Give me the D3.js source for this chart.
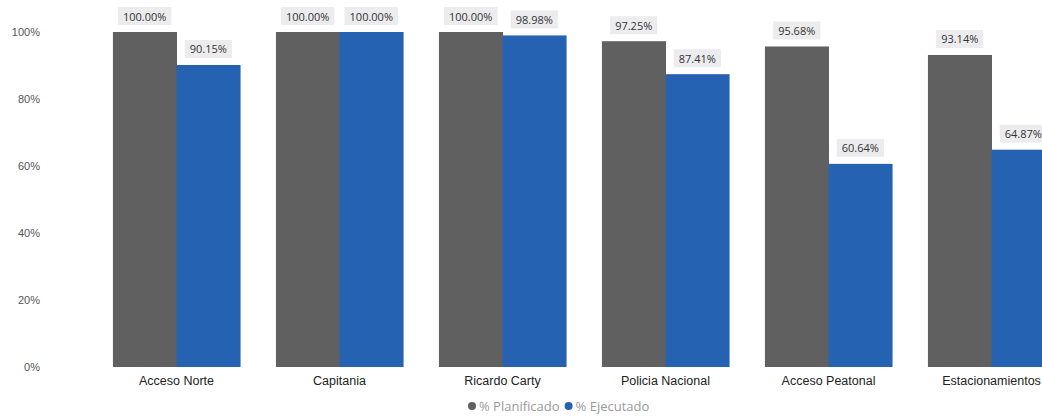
<!DOCTYPE html>
<html>
<head>
<meta charset="utf-8">
<script src="https://cdn.jsdelivr.net/npm/d3@7"></script>
<style>
  body { margin: 0; background: #fff; }
  svg { display: block; font-family: "Segoe UI", "Open Sans", sans-serif; }
</style>
</head>
<body>
<script>
// chart data
var categories = ["Acceso Norte", "Capitania", "Ricardo Carty", "Policia Nacional", "Acceso Peatonal", "Estacionamientos"];
var planificado = [1.0, 1.0, 1.0, 0.9725, 0.9568, 0.9314];
var ejecutado = [0.9015, 1.0, 0.9898, 0.8741, 0.6064, 0.6487];
var series = ["% Planificado", "% Ejecutado"];
var yTicks = [0, 0.2, 0.4, 0.6, 0.8, 1.0];

var width = 1042, height = 416;
var colors = ["#606060", "#2662b2"];

var svg = d3.select("body").append("svg")
    .attr("width", width)
    .attr("height", height);

var x = d3.scaleBand().domain(categories).range([95, 1073])
    .paddingInner(0.22).paddingOuter(0.11);
var xs = d3.scaleBand().domain(series).range([0, x.bandwidth()]);
var y = d3.scaleLinear().domain([0, 1]).range([367, 32]);

// y axis labels only
svg.append("g")
   .attr("transform", "translate(40,0)")
   .call(d3.axisLeft(y).tickValues(yTicks).tickFormat(d3.format(".0%")).tickSize(0).tickPadding(0))
   .call(function (g) { g.select(".domain").remove(); })
   .selectAll("text")
   .attr("fill", "#555")
   .style("font-size", "11px");

// x axis labels
svg.append("g")
   .attr("transform", "translate(0,370)")
   .call(d3.axisBottom(x).tickSize(0).tickPadding(6))
   .call(function (g) { g.select(".domain").remove(); })
   .selectAll("text")
   .attr("fill", "#222")
   .style("font-size", "12.5px");

var rows = categories.map(function (c, i) {
    return { cat: c, vals: [planificado[i], ejecutado[i]] };
});

var groups = svg.selectAll(".grp").data(rows).enter().append("g")
    .attr("class", "grp")
    .attr("transform", function (d) { return "translate(" + x(d.cat) + ",0)"; });

var cells = groups.selectAll(".cell")
    .data(function (d) { return d.vals.map(function (v, j) { return { s: series[j], v: v, j: j }; }); })
    .enter().append("g").attr("class", "cell");

cells.append("rect")
    .attr("x", function (d) { return xs(d.s); })
    .attr("width", xs.bandwidth() + 0.5)
    .attr("y", function (d) { return y(d.v); })
    .attr("height", function (d) { return y(0) - y(d.v); })
    .attr("fill", function (d) { return colors[d.j]; });

var fmt = d3.format(".2%");
cells.each(function (d) {
    var g = d3.select(this);
    var cx = xs(d.s) + xs.bandwidth() / 2;
    var cy = y(d.v) - 16;
    var t = g.append("text")
        .attr("x", cx).attr("y", cy)
        .attr("text-anchor", "middle")
        .attr("dominant-baseline", "central")
        .attr("fill", "#333")
        .style("font-size", "11px")
        .text(fmt(d.v));
    var bb = t.node().getBBox();
    g.insert("rect", "text")
        .attr("x", bb.x - 5).attr("y", cy - 9)
        .attr("width", bb.width + 10).attr("height", 18)
        .attr("fill", "#ececee");
});

// legend
var legend = svg.append("g").attr("transform", "translate(468,406)");
var lx = 0;
series.forEach(function (s, i) {
    legend.append("circle").attr("cx", lx + 4).attr("cy", 0).attr("r", 4).attr("fill", colors[i]);
    var t = legend.append("text").attr("x", lx + 11).attr("y", 0)
        .attr("dominant-baseline", "central")
        .attr("fill", "#9a9a9a")
        .style("font-size", "13px")
        .text(s);
    lx += 11 + t.node().getComputedTextLength() + 5;
});
</script>
</body>
</html>
